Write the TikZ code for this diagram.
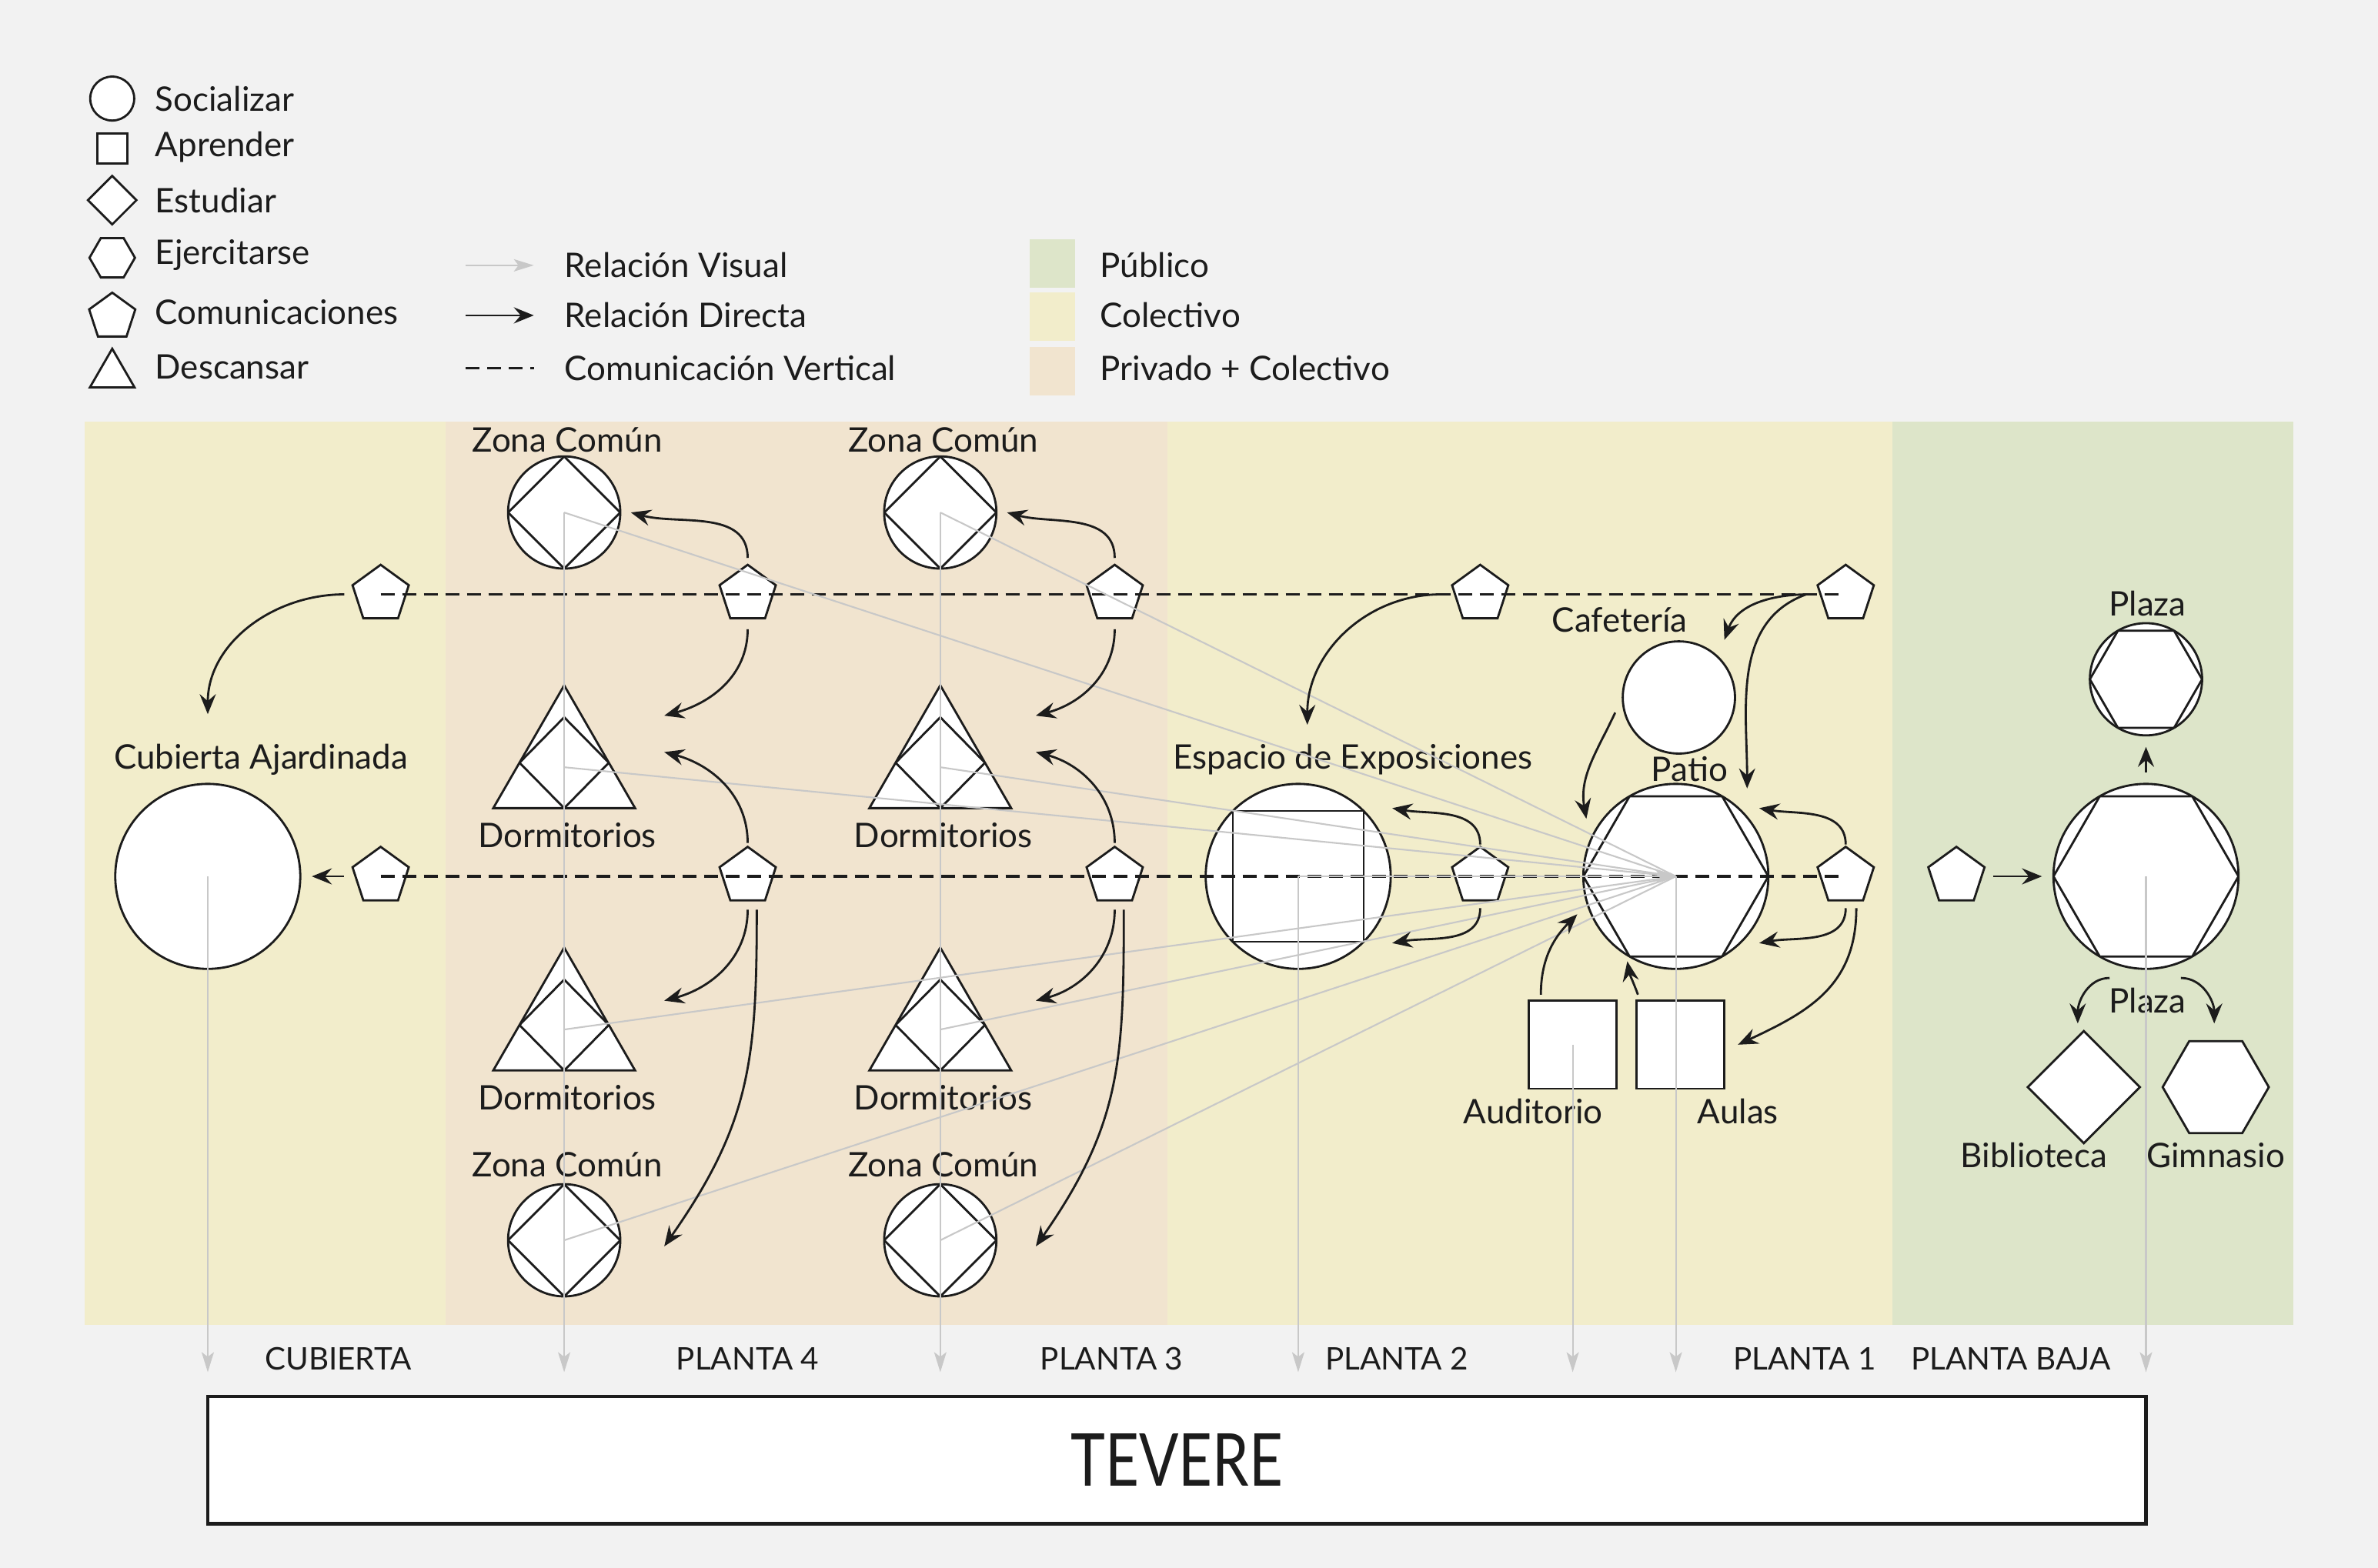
\documentclass[tikz,border=0pt]{standalone}
\usepackage{fontspec}
\setmainfont{Lato}
\usepackage{graphicx}
\usetikzlibrary{shapes.geometric,arrows.meta,positioning,calc}

\definecolor{ink}{HTML}{1C1C1C}
\definecolor{fondo}{HTML}{F2F2F2}
\definecolor{colectivo}{HTML}{F2EDCB}
\definecolor{privado}{HTML}{F1E4CF}
\definecolor{publico}{HTML}{DDE5C9}
\definecolor{visual}{HTML}{C8C8C8}

\newcommand{\unitpx}{0.19707mm}

\begin{document}
\begin{tikzpicture}[
    x=0.19707mm, y=-0.19707mm,
    txt/.style={font=\fontsize{12.5}{15}\selectfont, text=ink, inner sep=0pt},
    caps/.style={font=\fontsize{11.5}{14}\selectfont, text=ink, inner sep=0pt},
    shp/.style={draw=ink, fill=white, line width=0.8pt, inner sep=0pt, outer sep=0pt},
    soc/.style={shp, circle},
    apr/.style={shp, rectangle},
    est/.style={shp, diamond},
    eje/.style={shp, regular polygon, regular polygon sides=6},
    com/.style={shp, regular polygon, regular polygon sides=5, minimum size=39*\unitpx},
    des/.style={shp, regular polygon, regular polygon sides=3},
    zona/.style={soc, minimum size=74*\unitpx, path picture={\draw[ink, line width=0.8pt] (path picture bounding box.north) -- (path picture bounding box.east) -- (path picture bounding box.south) -- (path picture bounding box.west) -- cycle;}},
    dorm/.style={des, minimum size=108*\unitpx, path picture={\draw[ink, line width=0.8pt] (path picture bounding box.south) -- ($(path picture bounding box.south west)!0.37!(path picture bounding box.north)$) -- ($(path picture bounding box.south)!0.74!(path picture bounding box.north)$) -- ($(path picture bounding box.south east)!0.37!(path picture bounding box.north)$) -- cycle;}},
    expo/.style={soc, minimum size=122*\unitpx, path picture={\draw[ink, line width=0.8pt] ($(path picture bounding box.center)!1!45:(path picture bounding box.east)$) -- ($(path picture bounding box.center)!1!135:(path picture bounding box.east)$) -- ($(path picture bounding box.center)!1!225:(path picture bounding box.east)$) -- ($(path picture bounding box.center)!1!315:(path picture bounding box.east)$) -- cycle;}},
    hexc/.style={soc, path picture={\draw[ink, line width=0.8pt] ($(path picture bounding box.center)!1!0:(path picture bounding box.east)$) -- ($(path picture bounding box.center)!1!60:(path picture bounding box.east)$) -- ($(path picture bounding box.center)!1!120:(path picture bounding box.east)$) -- ($(path picture bounding box.center)!1!180:(path picture bounding box.east)$) -- ($(path picture bounding box.center)!1!240:(path picture bounding box.east)$) -- ($(path picture bounding box.center)!1!300:(path picture bounding box.east)$) -- cycle;}},
    rel/.style={draw=ink, line width=0.8pt, -{Stealth[length=2.6mm, width=2.1mm, inset=0.9mm]}},
    gap/.style={shorten >=1.5mm, shorten <=1.5mm},
    vis/.style={draw=visual, line width=0.6pt},
    visarr/.style={vis, -{Stealth[length=2.6mm, width=1.6mm, inset=0.6mm]}},
    vert/.style={draw=ink, line width=0.9pt, dash pattern=on 1.8mm off 1mm}
]
    % fondo y franjas
    \useasboundingbox (0,0) rectangle (1568,1034);
    \fill[fondo] (0,0) rectangle (1568,1034);
    \fill[colectivo] (56,278) rectangle (294,874);
    \fill[privado] (294,278) rectangle (770,874);
    \fill[colectivo] (770,278) rectangle (1248,874);
    \fill[publico] (1248,278) rectangle (1512,874);

    % leyenda
    \node[soc, minimum size=29*\unitpx] (lsoc) at (74,65) {};
    \node[apr, minimum size=20*\unitpx] (lapr) at (74,98) {};
    \node[est, minimum size=32*\unitpx] (lest) at (74,132) {};
    \node[eje, minimum size=30*\unitpx] (leje) at (74,170) {};
    \node[com, minimum size=32*\unitpx] (lcom) at (74,209) {};
    \node[des, minimum size=34*\unitpx] (ldes) at (74,247) {};
    \node[txt, anchor=west] (tsoc) at (102,65) {Socializar};
    \node[txt, anchor=west] (tapr) at (102,97) {Aprender};
    \node[txt, anchor=west] (test) at (102,132) {Estudiar};
    \node[txt, anchor=west] (teje) at (102,168) {Ejercitarse};
    \node[txt, anchor=west] (tcom) at (102,206) {Comunicaciones};
    \node[txt, anchor=west] (tdes) at (102,242) {Descansar};

    \coordinate (lv1) at (307,175);
    \coordinate (lv2) at (352,175);
    \coordinate (ld1) at (307,208);
    \coordinate (ld2) at (352,208);
    \coordinate (lc1) at (307,243);
    \coordinate (lc2) at (352,243);
    \draw[visarr] (lv1) -- (lv2);
    \draw[rel] (ld1) -- (ld2);
    \draw[vert] (lc1) -- (lc2);
    \node[txt, anchor=west] (tvis) at (372,175) {Relación Visual};
    \node[txt, anchor=west] (tdir) at (372,208) {Relación Directa};
    \node[txt, anchor=west] (tver) at (372,243) {Comunicación Vertical};

    \node[fill=publico, minimum width=30*\unitpx, minimum height=32*\unitpx, inner sep=0pt] (spub) at (694,174) {};
    \node[fill=colectivo, minimum width=30*\unitpx, minimum height=32*\unitpx, inner sep=0pt] (scol) at (694,209) {};
    \node[fill=privado, minimum width=30*\unitpx, minimum height=32*\unitpx, inner sep=0pt] (spri) at (694,245) {};
    \node[txt, anchor=west] (tpub) at (725,175) {Público};
    \node[txt, anchor=west] (tcol) at (725,208) {Colectivo};
    \node[txt, anchor=west] (tpri) at (725,243) {Privado + Colectivo};

    % cubierta
    \node[com] (pc1) at (251,392) {};
    \node[com] (pc2) at (251,578) {};
    \node[soc, minimum size=122*\unitpx] (cub) at (137,578) {};
    \node[txt] (tcub) at (172,501) {Cubierta Ajardinada};

    % planta 4
    \node[zona] (zc4a) at (372,338) {};
    \node[dorm] (d4a) at (372,506) {};
    \node[dorm] (d4b) at (372,679) {};
    \node[zona] (zc4b) at (372,818) {};
    \node[com] (p4a) at (493,392) {};
    \node[com] (p4b) at (493,578) {};
    \node[txt] (tzc4a) at (374,290) {Zona Común};
    \node[txt] (td4a) at (374,551) {Dormitorios};
    \node[txt] (td4b) at (374,724) {Dormitorios};
    \node[txt] (tzc4b) at (374,768) {Zona Común};

    % planta 3
    \node[zona] (zc3a) at (620,338) {};
    \node[dorm] (d3a) at (620,506) {};
    \node[dorm] (d3b) at (620,679) {};
    \node[zona] (zc3b) at (620,818) {};
    \node[com] (p3a) at (735,392) {};
    \node[com] (p3b) at (735,578) {};
    \node[txt] (tzc3a) at (622,290) {Zona Común};
    \node[txt] (td3a) at (622,551) {Dormitorios};
    \node[txt] (td3b) at (622,724) {Dormitorios};
    \node[txt] (tzc3b) at (622,768) {Zona Común};

    % planta 2
    \node[expo] (exp) at (856,578) {};
    \node[com] (p2a) at (976,392) {};
    \node[com] (p2b) at (976,578) {};
    \node[txt] (texp) at (892,501) {Espacio de Exposiciones};

    % planta 1
    \node[soc, minimum size=74*\unitpx] (caf) at (1107,460) {};
    \node[hexc, minimum size=122*\unitpx] (patio) at (1105,578) {};
    \node[apr, minimum size=58*\unitpx] (aud) at (1037,689) {};
    \node[apr, minimum size=58*\unitpx] (aulas) at (1108,689) {};
    \node[com] (p1a) at (1217,392) {};
    \node[com] (p1b) at (1217,578) {};
    \node[txt] (tcaf) at (1068,409) {Cafetería};
    \node[txt] (tpatio) at (1114,507) {Patio};
    \node[txt] (taud) at (1011,733) {Auditorio};
    \node[txt] (taulas) at (1146,733) {Aulas};

    % planta baja
    \node[com] (pb) at (1290,578) {};
    \node[hexc, minimum size=122*\unitpx] (plz) at (1415,578) {};
    \node[hexc, minimum size=74*\unitpx] (plz2) at (1415,448) {};
    \node[est, minimum size=74*\unitpx] (bib) at (1374,717) {};
    \node[eje, minimum size=70*\unitpx] (gim) at (1461,717) {};
    \node[txt] (tplz2) at (1416,398) {Plaza};
    \node[txt] (tplz) at (1416,660) {Plaza};
    \node[txt] (tbib) at (1341,762) {Biblioteca};
    \node[txt] (tgim) at (1461,762) {Gimnasio};

    % comunicacion vertical
    \draw[vert] (pc1.center) -- (p1a.center);
    \draw[vert] (pc2.center) -- (p1b.center);

    % relaciones visuales
    \coordinate (f1) at (137,905);
    \coordinate (f2) at (372,905);
    \coordinate (f3) at (620,905);
    \coordinate (f4) at (856,905);
    \coordinate (f5) at (1037,905);
    \coordinate (f6) at (1105,905);
    \coordinate (f7) at (1415,905);
    \draw[vis] (zc4a.center) -- (patio.center);
    \draw[vis] (zc3a.center) -- (patio.center);
    \draw[vis] (d4a.center) -- (patio.center);
    \draw[vis] (d3a.center) -- (patio.center);
    \draw[vis] (d4b.center) -- (patio.center);
    \draw[vis] (d3b.center) -- (patio.center);
    \draw[vis] (zc4b.center) -- (patio.center);
    \draw[vis] (zc3b.center) -- (patio.center);
    \draw[visarr] (exp.center) -- (patio.center);
    \draw[visarr] (cub.center) -- (f1);
    \draw[visarr] (zc4a.center) -- (f2);
    \draw[visarr] (zc3a.center) -- (f3);
    \draw[visarr] (exp.center) -- (f4);
    \draw[visarr] (aud.center) -- (f5);
    \draw[visarr] (patio.center) -- (f6);
    \draw[visarr] (plz.center) -- (f7);

    % relaciones directas
    \draw[rel] ($(pc1.center)+(-24,0)$) to[out=180, in=90] ($(cub.north)+(0,-46)$);
    \draw[rel, gap] (pc2) -- (cub);

    \draw[rel] ($(p4a.center)+(0,-24)$) to[out=90, in=-15] ($(zc4a.center)+(44,0)$);
    \draw[rel] ($(p4a.center)+(0,23)$) to[out=-90, in=15] ($(d4a.center)+(66,-34)$);
    \draw[rel] ($(p4b.center)+(0,-22)$) to[out=90, in=-15] ($(d4a.center)+(66,-10)$);
    \draw[rel] ($(p4b.center)+(0,22)$) to[out=-90, in=15] ($(d4b.center)+(66,-19)$);
    \draw[rel] ($(p4b.center)+(6,22)$) to[out=-90, in=55, looseness=1.1] ($(zc4b.center)+(66,4)$);

    \draw[rel] ($(p3a.center)+(0,-24)$) to[out=90, in=-15] ($(zc3a.center)+(44,0)$);
    \draw[rel] ($(p3a.center)+(0,23)$) to[out=-90, in=15] ($(d3a.center)+(63,-34)$);
    \draw[rel] ($(p3b.center)+(0,-22)$) to[out=90, in=-15] ($(d3a.center)+(63,-10)$);
    \draw[rel] ($(p3b.center)+(0,22)$) to[out=-90, in=15] ($(d3b.center)+(63,-19)$);
    \draw[rel] ($(p3b.center)+(6,22)$) to[out=-90, in=55, looseness=1.1] ($(zc3b.center)+(63,4)$);

    \draw[rel] ($(p2a.center)+(-26,0)$) to[out=180, in=90] ($(exp.center)+(6,-100)$);
    \draw[rel] ($(p2b.center)+(0,-21)$) to[out=90, in=-10] ($(exp.center)+(62,-45)$);
    \draw[rel] ($(p2b.center)+(0,21)$) to[out=-90, in=10] ($(exp.center)+(62,44)$);

    \draw[rel] ($(p1a.center)+(-24,0)$) to[out=180, in=70] ($(caf.center)+(30,-38)$);
    \draw[rel] ($(p1a.center)+(-26,0)$) to[out=200, in=90] ($(patio.center)+(47,-58)$);
    \draw[rel] ($(caf.center)+(-42,10)$) to[out=245, in=100] ($(patio.center)+(-59,-38)$);
    \draw[rel] ($(p1b.center)+(0,-21)$) to[out=90, in=-10] ($(patio.center)+(55,-45)$);
    \draw[rel] ($(p1b.center)+(0,21)$) to[out=-90, in=10] ($(patio.center)+(55,44)$);
    \draw[rel] ($(p1b.center)+(7,21)$) to[out=-90, in=25, looseness=1.1] ($(aulas.east)+(9,0)$);
    \draw[rel] ($(aud.center)+(-21,-33)$) to[out=90, in=225] ($(patio.center)+(-65,25)$);
    \draw[rel] ($(aulas.center)+(-28,-33)$) to[out=110, in=-80] ($(patio.center)+(-32,56)$);

    \draw[rel, gap] (pb) -- (plz);
    \draw[rel, gap] (plz) -- (plz2);
    \draw[rel] ($(plz.center)+(-24,67)$) to[out=180, in=90] ($(bib.center)+(-4,-42)$);
    \draw[rel] ($(plz.center)+(23,67)$) to[out=0, in=90] ($(gim.center)+(-1,-42)$);

    % plantas
    \node[caps] (ncub) at (223,896) {CUBIERTA};
    \node[caps] (np4) at (493,896) {PLANTA 4};
    \node[caps] (np3) at (733,896) {PLANTA 3};
    \node[caps] (np2) at (921,896) {PLANTA 2};
    \node[caps] (np1) at (1190,896) {PLANTA 1};
    \node[caps] (npb) at (1326,896) {PLANTA BAJA};
    \node[draw=ink, line width=1.2pt, fill=white, minimum width=1278*\unitpx, minimum height=84*\unitpx, inner sep=0pt, text=ink] (tevere) at (776,963) {\fontsize{27}{30}\selectfont\scalebox{0.8}[1]{TEVERE}};
\end{tikzpicture}
\end{document}
